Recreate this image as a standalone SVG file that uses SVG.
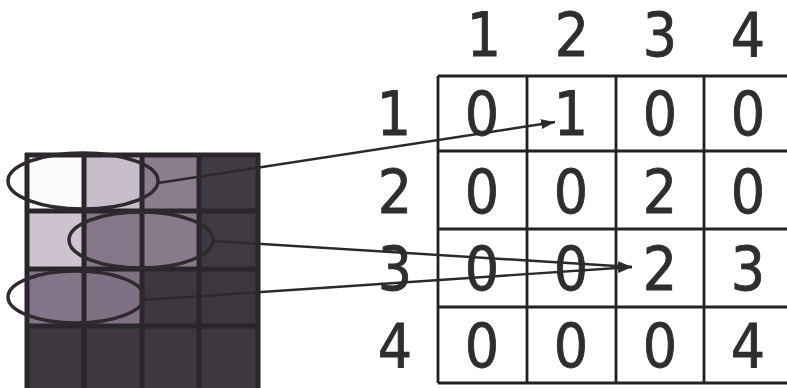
<svg xmlns="http://www.w3.org/2000/svg" width="787" height="388" viewBox="0 0 787 388">
  <style>
    .num { font-family: "DejaVu Sans Condensed", "DejaVu Sans", Verdana, sans-serif; font-stretch: semi-condensed; font-size: 60px; fill: #2e2e2e; stroke: #2e2e2e; stroke-width: 0.8; text-anchor: middle; }
    .tbl { fill: none; stroke: #222; stroke-width: 2.8; }
    .gl { stroke: #2b262c; stroke-width: 5; fill: none; }
    .ell { fill: none; stroke: #2e2a2e; stroke-width: 3.5; }
    .conn { stroke: #2a2a2a; stroke-width: 2.4; fill: none; marker-end: url(#arr); }
  </style>
  <defs>
    <marker id="arr" viewBox="0 0 14 10" refX="14" refY="5" markerWidth="14" markerHeight="10" markerUnits="userSpaceOnUse" orient="auto">
      <path d="M0,0 L14,5 L0,10 Z" fill="#2a2a2a"/>
    </marker>
  </defs>
  <rect width="787" height="388" fill="#ffffff"/>

  <g id="image-grid">
    <rect x="25" y="153" width="59" height="58" fill="#fbfbfb"/>
    <rect x="84" y="153" width="58" height="58" fill="#c8bdcb"/>
    <rect x="142" y="153" width="57" height="58" fill="#8b7d8e"/>
    <rect x="199" y="153" width="61" height="58" fill="#403a42"/>
    <rect x="25" y="211" width="59" height="58" fill="#cdc3d0"/>
    <rect x="84" y="211" width="58" height="58" fill="#867689"/>
    <rect x="142" y="211" width="57" height="58" fill="#887a8b"/>
    <rect x="199" y="211" width="61" height="58" fill="#3f3941"/>
    <rect x="25" y="269" width="59" height="57" fill="#847488"/>
    <rect x="84" y="269" width="58" height="57" fill="#807084"/>
    <rect x="142" y="269" width="57" height="57" fill="#3d373f"/>
    <rect x="199" y="269" width="61" height="57" fill="#3c363e"/>
    <rect x="25" y="326" width="235" height="62" fill="#3d373f"/>
    <path class="gl" d="M27,153 V388 M84,153 V388 M142,153 V388 M199,153 V388 M258,153 V388 M25,155 H260 M25,211 H260 M25,269 H260 M25,326 H260"/>
  </g>

  <g id="ellipses">
    <ellipse class="ell" cx="83" cy="181" rx="75" ry="28"/>
    <ellipse class="ell" cx="141" cy="240" rx="72" ry="28"/>
    <ellipse class="ell" cx="76" cy="297" rx="68" ry="26"/>
  </g>

  <g id="matrix">
    <path class="tbl" d="M438,76 H790 M438,151 H790 M438,229 H790 M438,307 H790 M438,383 H790 M438,76 V383 M527,76 V383 M616,76 V383 M704,76 V383"/>
  </g>

  <g id="col-headers">
    <text class="num" x="484" y="56">1</text>
    <text class="num" x="572" y="56">2</text>
    <text class="num" x="660" y="56">3</text>
    <text class="num" x="748" y="56">4</text>
  </g>
  <g id="row-headers">
    <text class="num" x="394" y="135">1</text>
    <text class="num" x="395" y="213">2</text>
    <text class="num" x="395" y="290">3</text>
    <text class="num" x="395" y="367">4</text>
  </g>
  <g id="cells">
    <text class="num" x="482" y="135">0</text>
    <text class="num" x="571" y="135">1</text>
    <text class="num" x="660" y="135">0</text>
    <text class="num" x="748" y="135">0</text>
    <text class="num" x="482" y="213">0</text>
    <text class="num" x="571" y="213">0</text>
    <text class="num" x="660" y="213">2</text>
    <text class="num" x="748" y="213">0</text>
    <text class="num" x="482" y="290">0</text>
    <text class="num" x="571" y="290">0</text>
    <text class="num" x="660" y="290">2</text>
    <text class="num" x="748" y="290">3</text>
    <text class="num" x="482" y="367">0</text>
    <text class="num" x="571" y="367">0</text>
    <text class="num" x="660" y="367">0</text>
    <text class="num" x="748" y="367">4</text>
  </g>

  <g id="connectors">
    <line class="conn" x1="158" y1="183" x2="555" y2="122"/>
    <line class="conn" x1="213" y1="241" x2="632" y2="267"/>
    <line class="conn" x1="143" y1="300" x2="632" y2="267"/>
  </g>
</svg>
